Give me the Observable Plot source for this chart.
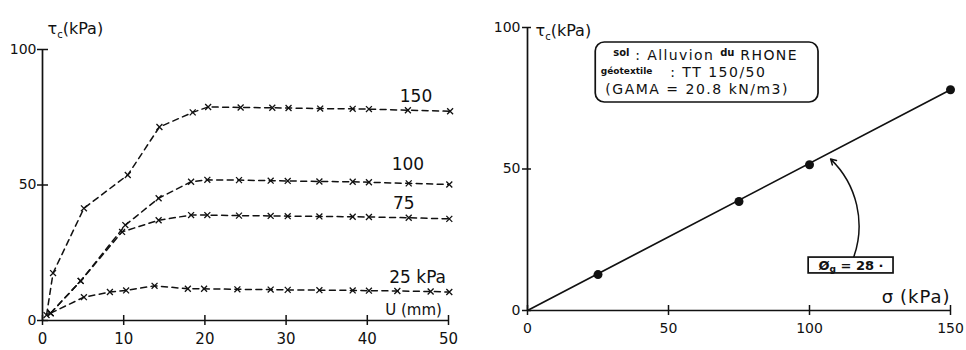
<!DOCTYPE html>
<html><head><meta charset="utf-8">
<script src="https://cdn.jsdelivr.net/npm/d3@7"></script>
<script src="https://cdn.jsdelivr.net/npm/@observablehq/plot@0.6"></script>
<style>
body{margin:0;background:#fff;}
#wrap{display:flex;width:966px;height:350px;background:#fff;}
</style></head><body><div id="wrap"></div>
<script>
// ---------- Left panel: shear stress vs displacement ----------
const u150 = [0.5, 1.3, 5.1, 10.5, 14.4, 18.5, 20.4, 24.4, 28.3, 30.3, 34.2, 38.2, 40.2, 45.0, 50.2];
const t150 = [2.0, 17.5, 41.4, 53.7, 71.4, 76.8, 78.8, 78.6, 78.5, 78.4, 78.2, 78.1, 78.0, 77.6, 77.2];
const u100 = [1.0, 4.7, 10.2, 14.3, 18.3, 20.3, 24.2, 28.1, 30.2, 34.1, 38.2, 40.2, 45.1, 50.1];
const t100 = [2.7, 14.6, 35.2, 45.1, 51.2, 51.9, 51.8, 51.6, 51.5, 51.3, 51.2, 51.0, 50.6, 50.2];
const u75  = [1.0, 4.7, 9.8, 14.3, 18.3, 20.3, 24.2, 28.1, 30.2, 34.1, 38.2, 40.2, 45.1, 50.1];
const t75  = [2.7, 14.6, 32.7, 37.0, 38.9, 38.9, 38.7, 38.6, 38.5, 38.4, 38.3, 38.2, 37.9, 37.5];
const u25  = [1.0, 5.1, 8.3, 10.3, 13.8, 17.9, 19.9, 24.0, 28.1, 30.2, 34.1, 38.2, 40.2, 43.7, 47.8, 50.1];
const t25  = [2.7, 8.6, 10.5, 11.1, 12.8, 11.7, 11.7, 11.5, 11.4, 11.3, 11.2, 11.1, 11.0, 10.9, 10.7, 10.5];
const seriesNames = ["150", "100", "75", "25"];
const curveLabels = ["150", "100", "75", "25 kPa"];
const curveLabelU = [46.0, 45.0, 44.5, 46.2];
const curveLabelTau = [82.6, 57.4, 43.3, 15.9];
const leftXTicks = [0, 10, 20, 30, 40, 50];
const leftYTicks = [0, 50, 100];
const leftYTitle = "τc (kPa)";
const leftXTitle = "U (mm)";

// ---------- Right panel: failure envelope ----------
const sigma = [25, 75, 100, 150];
const tauMax = [12.7, 38.5, 51.5, 78.0];
const fitSigma = [0, 150];
const fitTau = [0, 78];
const rightXTicks = [0, 50, 100, 150];
const rightYTicks = [0, 50, 100];
const rightYTitle = "τc (kPa)";
const rightXTitle = "σ (kPa)";
const infoLines = ["sol : Alluvion du RHONE", "géotextile : TT 150/50", "(GAMA = 20.8 kN/m3)"];
const phiLabel = "Øg = 28 ·";

// annotation placement (data units)
const infoBox = [{x1: 24.2, x2: 103.2, y1: 73.5, y2: 94.7}];
const infoPos = [{x: 30.4, y: 90.0}, {x: 26.0, y: 84.1}, {x: 27.6, y: 78.1}];
const phiBox = [{x1: 99.7, x2: 129.8, y1: 13.1, y2: 18.7}];
const phiPos = [{x: 114.7, y: 15.9}];
const phiArrow = [{x1: 115.6, y1: 18.7, x2: 107.5, y2: 53.5}];

const FONT = '"DejaVu Sans", sans-serif';
const INK = "#111";

const rows = [];
[[u150, t150], [u100, t100], [u75, t75], [u25, t25]].forEach(([u, t], i) => {
  u.forEach((v, j) => rows.push({s: seriesNames[i], u: v, tau: t[j]}));
});
const labelRows = curveLabels.map((t, i) => ({t, u: curveLabelU[i], tau: curveLabelTau[i]}));

const left = Plot.plot({
  width: 480, height: 350,
  marginLeft: 42, marginRight: 32, marginTop: 49, marginBottom: 30,
  x: {domain: [0, 50]}, y: {domain: [0, 100]},
  style: {fontFamily: FONT, fontSize: "14px", color: INK, background: "white"},
  marks: [
    Plot.ruleY([0], {stroke: INK, strokeWidth: 1.7}),
    Plot.ruleX([0], {stroke: INK, strokeWidth: 1.7}),
    Plot.axisX({ticks: leftXTicks, tickSize: 5, tickPadding: 8, fontSize: 15, label: null, strokeWidth: 1.5}),
    Plot.axisX({ticks: leftXTicks, tickSize: -5, tickFormat: () => "", label: null, strokeWidth: 1.5}),
    Plot.axisY({ticks: leftYTicks, tickSize: 5, tickPadding: 1, fontSize: 14, label: null, strokeWidth: 1.5}),
    Plot.axisY({ticks: leftYTicks, tickSize: -6, tickFormat: () => "", label: null, strokeWidth: 1.5}),
    Plot.line(rows, {x: "u", y: "tau", z: "s", stroke: INK, strokeWidth: 1.5, strokeDasharray: "6,4.5"}),
    Plot.dot(rows, {x: "u", y: "tau", symbol: "times", r: 2.8, stroke: INK, strokeWidth: 1.3}),
    Plot.text(labelRows, {x: "u", y: "tau", text: "t", fontSize: 17, fill: INK}),
    Plot.text([leftXTitle], {x: 45.7, y: 3.7, fontSize: 15, fill: INK}),
    Plot.text([leftYTitle], {frameAnchor: "top-left", dx: 5, dy: -27, textAnchor: "start", fontSize: 16, fill: INK})
  ]
});

const right = Plot.plot({
  width: 486, height: 350,
  marginLeft: 47, marginRight: 16, marginTop: 27, marginBottom: 40,
  x: {domain: [0, 150]}, y: {domain: [0, 100]},
  style: {fontFamily: FONT, fontSize: "14px", color: INK, background: "white"},
  marks: [
    Plot.ruleY([0], {stroke: INK, strokeWidth: 1.7}),
    Plot.ruleX([0], {stroke: INK, strokeWidth: 1.7}),
    Plot.axisX({ticks: rightXTicks, tickSize: 5, tickPadding: 8, fontSize: 14, label: null, strokeWidth: 1.5}),
    Plot.axisX({ticks: rightXTicks, tickSize: -5, tickFormat: () => "", label: null, strokeWidth: 1.5}),
    Plot.axisY({ticks: rightYTicks, tickSize: 5, tickPadding: 2, fontSize: 14, label: null, strokeWidth: 1.5}),
    Plot.axisY({ticks: rightYTicks, tickSize: -4, tickFormat: () => "", label: null, strokeWidth: 1.5}),
    Plot.line(fitSigma.map((s, i) => ({s, t: fitTau[i]})), {x: "s", y: "t", stroke: INK, strokeWidth: 1.7}),
    Plot.dot(sigma.map((s, i) => ({s, t: tauMax[i]})), {x: "s", y: "t", r: 4.5, fill: INK}),
    Plot.rect(infoBox, {x1: "x1", x2: "x2", y1: "y1", y2: "y2", rx: 9, fill: "white", stroke: INK, strokeWidth: 1.7}),
    Plot.text(infoLines.map((t, i) => ({t, ...infoPos[i]})), {x: "x", y: "y", text: "t", textAnchor: "start", fontSize: 14, fill: INK}),
    Plot.arrow(phiArrow, {x1: "x1", y1: "y1", x2: "x2", y2: "y2", bend: -33, headLength: 6, stroke: INK, strokeWidth: 1.5}),
    Plot.rect(phiBox, {x1: "x1", x2: "x2", y1: "y1", y2: "y2", fill: "white", stroke: INK, strokeWidth: 1.7}),
    Plot.text([{t: phiLabel, ...phiPos[0]}], {x: "x", y: "y", text: "t", fontSize: 13, fontWeight: "bold", fill: INK}),
    Plot.text([rightXTitle], {x: 150, y: 4.6, textAnchor: "end", fontSize: 18, fill: INK}),
    Plot.text([rightYTitle], {frameAnchor: "top-left", dx: 8, dy: -3, textAnchor: "start", fontSize: 16, fill: INK})
  ]
});

function rich(svg, match, html) {
  svg.querySelectorAll("text").forEach(el => { if (el.textContent === match) el.innerHTML = html; });
}
const tauHtml = 'τ<tspan font-size="10" dy="4">c</tspan><tspan dy="-4">(kPa)</tspan>';
rich(left, leftYTitle, tauHtml);
rich(right, rightYTitle, tauHtml);
rich(right, infoLines[0], '<tspan font-size="10" font-weight="bold" dy="-4">sol</tspan><tspan dy="4" letter-spacing="1.4"> : Alluvion </tspan><tspan font-size="10" font-weight="bold" dy="-4">du</tspan><tspan dy="4" letter-spacing="1.4"> RHONE</tspan>');
rich(right, infoLines[1], '<tspan font-size="9" font-weight="bold" dy="-3">géotextile</tspan><tspan dy="3" letter-spacing="1.5">   : TT 150/50</tspan>');
rich(right, infoLines[2], '<tspan letter-spacing="1.5">(GAMA = 20.8 kN/m3)</tspan>');
rich(right, phiLabel, 'Ø<tspan font-size="9" dy="2">g</tspan><tspan dy="-2"> = 28 ·</tspan>');
rich(right, rightXTitle, 'σ<tspan letter-spacing="1"> (kPa)</tspan>');

document.getElementById("wrap").append(left, right);
</script></body></html>
